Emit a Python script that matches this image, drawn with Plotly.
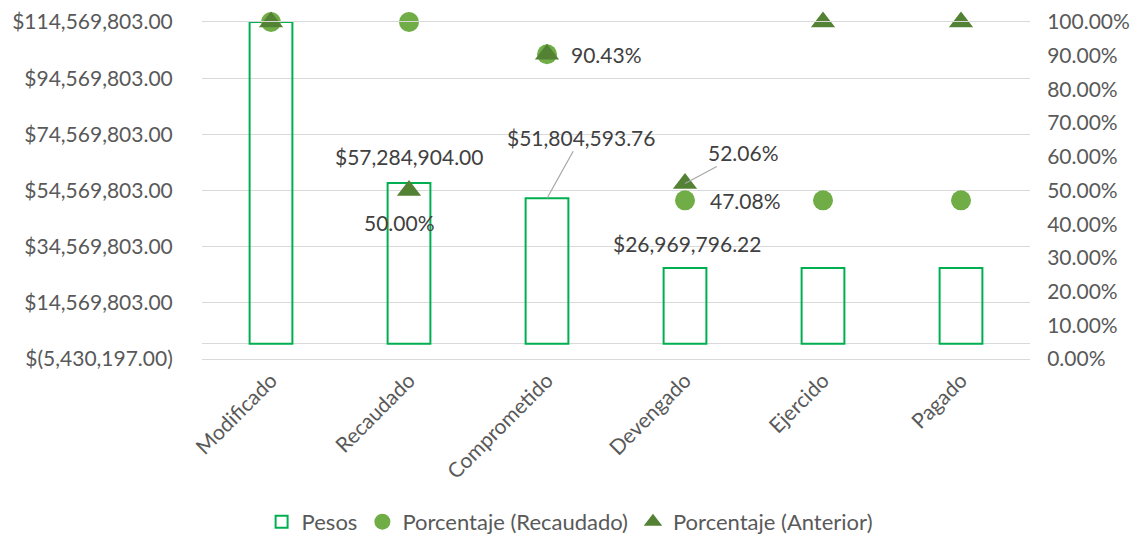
import plotly.graph_objects as go

categories = ["Modificado", "Recaudado", "Comprometido", "Devengado", "Ejercido", "Pagado"]
pesos = [114569803.00, 57284904.00, 51804593.76, 26969796.22, 26969796.22, 26969796.22]
pct_recaudado = [1.0, 1.0, 0.9043, 0.4708, 0.4708, 0.4708]
pct_anterior = [1.0, 0.50, 0.9043, 0.5206, 1.0, 1.0]

left_tick_vals = [-5430197, 14569803, 34569803, 54569803, 74569803, 94569803, 114569803]
left_tick_text = ["$(5,430,197.00)", "$14,569,803.00", "$34,569,803.00", "$54,569,803.00",
                  "$74,569,803.00", "$94,569,803.00", "$114,569,803.00"]
right_tick_vals = [i / 10 for i in range(11)]
right_tick_text = ["0.00%", "10.00%", "20.00%", "30.00%", "40.00%", "50.00%",
                   "60.00%", "70.00%", "80.00%", "90.00%", "100.00%"]

FONT = "Lato, Carlito, Calibri, sans-serif"
TICK_COLOR = "#595959"
LABEL_COLOR = "#404040"
GRID = "#D9D9D9"
FS = 21

fig = go.Figure()
fig.add_trace(go.Bar(
    x=categories, y=pesos, name="Pesos", width=0.31,
    marker=dict(color="rgba(0,0,0,0)", line=dict(color="#00B050", width=2)),
    yaxis="y",
))
fig.add_trace(go.Scatter(
    x=categories, y=pct_recaudado, name="Porcentaje (Recaudado)", mode="markers",
    marker=dict(symbol="circle", size=20, color="#70AD47"), yaxis="y2", cliponaxis=False,
))
fig.add_trace(go.Scatter(
    x=categories, y=pct_anterior, name="Porcentaje (Anterior)", mode="markers",
    marker=dict(symbol="triangle-up", size=21, color="#548235"), yaxis="y2", cliponaxis=False,
))

def money(v):
    return "${:,.2f}".format(v)

def pct(v):
    return "{:.2f}%".format(v * 100)

lab_font = dict(family=FONT, size=FS, color=LABEL_COLOR)
ann = []
# bar labels
ann.append(dict(x=categories[1], y=pesos[1], yref="y", text=money(pesos[1]), showarrow=False,
                yshift=26, font=lab_font))
ann.append(dict(x=categories[3], y=pesos[3], yref="y", text=money(pesos[3]), showarrow=False,
                yshift=25, xshift=2, font=lab_font))
ann.append(dict(x=categories[2], y=pesos[2], yref="y", text=money(pesos[2]), showarrow=True,
                arrowhead=0, arrowcolor="#A6A6A6", arrowwidth=1.2, ax=34, ay=-61, font=lab_font))
# percentage labels
ann.append(dict(x=categories[2], y=pct_recaudado[2], yref="y2", text=pct(pct_recaudado[2]),
                showarrow=False, xanchor="left", xshift=22, font=lab_font))
ann.append(dict(x=categories[3], y=pct_recaudado[3], yref="y2", text=pct(pct_recaudado[3]),
                showarrow=False, xanchor="left", xshift=23, font=lab_font))
ann.append(dict(x=categories[1], y=pct_anterior[1], yref="y2", text=pct(pct_anterior[1]),
                showarrow=False, xshift=-10, yshift=-32, font=lab_font))
ann.append(dict(x=categories[3], y=pct_anterior[3], yref="y2", text=pct(pct_anterior[3]),
                showarrow=True, arrowhead=0, arrowcolor="#A6A6A6", arrowwidth=1.2,
                ax=58, ay=-31, font=lab_font))

# the page body has an 8px margin; size/margins compensate so the plot lands in place
fig.update_layout(
    width=1130, height=527,
    margin=dict(l=194, r=108, t=14, b=176, autoexpand=False),
    paper_bgcolor="white", plot_bgcolor="white",
    font=dict(family=FONT, size=FS, color=TICK_COLOR),
    showlegend=True,
    legend=dict(orientation="h", xref="container", yref="container", x=0.497, y=0.025,
                xanchor="center", yanchor="middle", font=dict(size=22, color=TICK_COLOR),
                itemwidth=30, tracegroupgap=0),
    xaxis=dict(type="category", range=[-0.5, 5.5], tickangle=-45, showgrid=False,
               showline=True, mirror=True, linecolor=GRID, linewidth=1,
               ticks="", automargin=False,
               tickfont=dict(size=FS, color=TICK_COLOR)),
    yaxis=dict(range=[-5430197, 114569803], tickvals=left_tick_vals, ticktext=left_tick_text,
               showgrid=True, gridcolor=GRID, gridwidth=1,
               zeroline=True, zerolinecolor=GRID, zerolinewidth=1,
               ticks="outside", ticklen=24, tickcolor="rgba(0,0,0,0)", automargin=False,
               tickfont=dict(size=FS, color=TICK_COLOR)),
    yaxis2=dict(range=[0, 1], tickvals=right_tick_vals, ticktext=right_tick_text,
                overlaying="y", side="right", showgrid=False, zeroline=False,
                ticks="outside", ticklen=12, tickcolor="rgba(0,0,0,0)", automargin=False,
                tickfont=dict(size=FS, color=TICK_COLOR)),
    annotations=ann,
)

fig.write_html("out.html")
